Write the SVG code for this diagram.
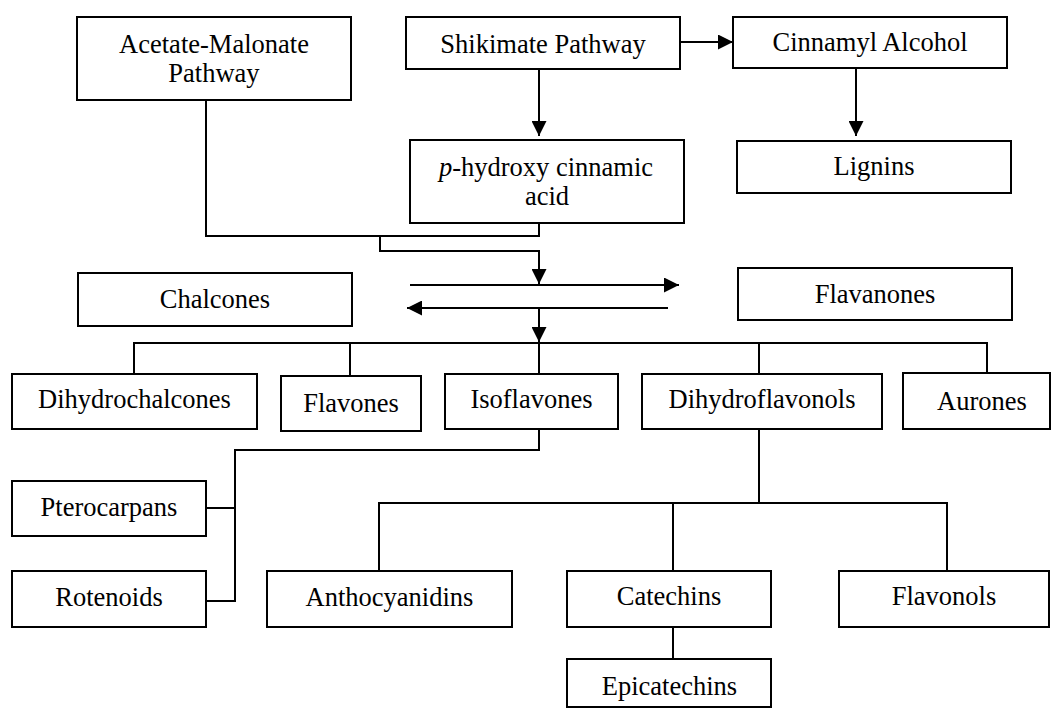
<svg xmlns="http://www.w3.org/2000/svg" width="1051" height="709" viewBox="0 0 1051 709">
<style>
.box{fill:#fff;stroke:#000;stroke-width:2}
.t{font-family:"Liberation Serif","Times New Roman",serif;font-size:26.5px;fill:#000;text-anchor:middle}
.c{fill:none;stroke:#000;stroke-width:2}
</style>
<defs>
<marker id="ah" markerUnits="userSpaceOnUse" markerWidth="15" markerHeight="15" refX="15" refY="7.5" orient="auto" viewBox="0 0 15 15">
<path d="M0,0 L15,7.5 L0,15 z" fill="#000"/>
</marker>
</defs>
<rect width="1051" height="709" fill="#fff"/>
<g id="connectors">
<path class="c" d="M206,100 V236 H539 V223"/>
<path class="c" d="M380,236 V251 H539 V284" marker-end="url(#ah)"/>
<path class="c" d="M410,285 H679" marker-end="url(#ah)"/>
<path class="c" d="M668,308 H407" marker-end="url(#ah)"/>
<path class="c" d="M539,308 V342" marker-end="url(#ah)"/>
<path class="c" d="M539,69 V136" marker-end="url(#ah)"/>
<path class="c" d="M680,42 H733" marker-end="url(#ah)"/>
<path class="c" d="M856,68 V136" marker-end="url(#ah)"/>
<path class="c" d="M134,374 V343 H987 V373"/>
<path class="c" d="M350,343 V376"/>
<path class="c" d="M539,343 V374"/>
<path class="c" d="M759,343 V374"/>
<path class="c" d="M539,429 V450 H235 V601 H206"/>
<path class="c" d="M206,508 H235"/>
<path class="c" d="M759,429 V503"/>
<path class="c" d="M379,571 V503 H947 V571"/>
<path class="c" d="M673,503 V571"/>
<path class="c" d="M673,627 V659"/>
</g>
<g id="acetate"><rect class="box" x="77" y="17" width="274" height="83"/><text class="t" x="214" y="53">Acetate-Malonate</text><text class="t" x="214" y="82">Pathway</text></g>
<g id="shikimate"><rect class="box" x="406" y="17" width="274" height="52"/><text class="t" x="543" y="53">Shikimate Pathway</text></g>
<g id="cinnamyl"><rect class="box" x="733" y="17" width="274" height="51"/><text class="t" x="870" y="51">Cinnamyl Alcohol</text></g>
<g id="phydroxy"><rect class="box" x="410" y="140" width="274" height="83"/><text class="t" x="546" y="176"><tspan font-style="italic">p</tspan>-hydroxy cinnamic</text><text class="t" x="547" y="205">acid</text></g>
<g id="lignins"><rect class="box" x="737" y="141" width="274" height="52"/><text class="t" x="874" y="175">Lignins</text></g>
<g id="chalcones"><rect class="box" x="78" y="273" width="274" height="53"/><text class="t" x="215" y="308">Chalcones</text></g>
<g id="flavanones"><rect class="box" x="738" y="268" width="274" height="52"/><text class="t" x="875" y="303">Flavanones</text></g>
<g id="dihydrochalcones"><rect class="box" x="12" y="374" width="245" height="55"/><text class="t" x="134.5" y="408">Dihydrochalcones</text></g>
<g id="flavones"><rect class="box" x="281" y="376" width="140" height="55"/><text class="t" x="351" y="412">Flavones</text></g>
<g id="isoflavones"><rect class="box" x="445" y="374" width="173" height="55"/><text class="t" x="531.5" y="408">Isoflavones</text></g>
<g id="dihydroflavonols"><rect class="box" x="642" y="374" width="240" height="55"/><text class="t" x="762" y="408">Dihydroflavonols</text></g>
<g id="aurones"><rect class="box" x="903" y="373" width="147" height="56"/><text class="t" x="982" y="410">Aurones</text></g>
<g id="pterocarpans"><rect class="box" x="12" y="481" width="194" height="55"/><text class="t" x="109" y="516">Pterocarpans</text></g>
<g id="rotenoids"><rect class="box" x="12" y="571" width="194" height="56"/><text class="t" x="109" y="606">Rotenoids</text></g>
<g id="anthocyanidins"><rect class="box" x="267" y="571" width="245" height="56"/><text class="t" x="389.5" y="606">Anthocyanidins</text></g>
<g id="catechins"><rect class="box" x="567" y="571" width="204" height="56"/><text class="t" x="669" y="605">Catechins</text></g>
<g id="flavonols"><rect class="box" x="839" y="571" width="210" height="56"/><text class="t" x="944" y="605">Flavonols</text></g>
<g id="epicatechins"><rect class="box" x="567" y="659" width="204" height="48"/><text class="t" x="669.5" y="695">Epicatechins</text></g>
</svg>
